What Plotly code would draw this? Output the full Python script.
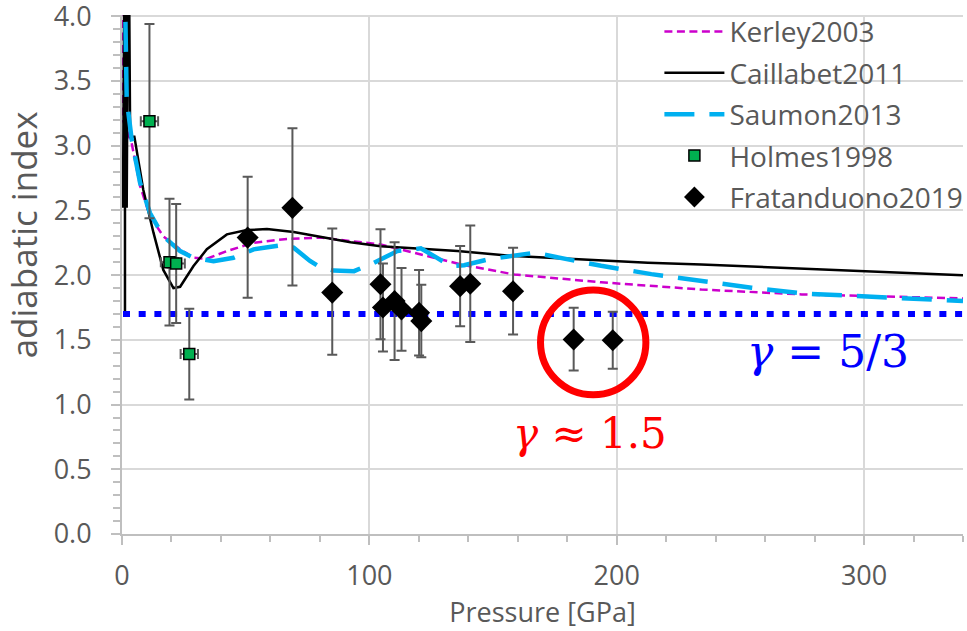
import plotly.graph_objects as go

# ---------------- data ----------------
kerley_p = [0.1, 0.3, 3.9, 7.3, 11.3, 16.7, 23.5, 28.9, 34.3, 42.4, 53.2, 66.7, 80.2,
            104.6, 137.0, 158.6, 193.7, 214.0, 234.2, 274.8, 315.3, 340.0]
kerley_g = [6.0, 3.2, 3.02, 2.69, 2.456, 2.30, 2.20, 2.134, 2.127, 2.186, 2.25, 2.28, 2.29,
            2.237, 2.083, 2.005, 1.945, 1.915, 1.889, 1.851, 1.833, 1.82]

caillabet_p = [1.2, 1.2, 0.4, 1.1, 1.9, 2.6, 3.3, 5.0, 8.6, 12.7, 16.7, 20.8, 23.5, 28.9,
               34.3, 42.4, 50.5, 58.6, 69.4, 80.2, 92.4, 104.6, 135.6, 158.6, 185.6, 212.6,
               234.2, 274.8, 301.8, 340.0]
caillabet_g = [1.70, 5.0, 2.52, 5.0, 2.52, 5.0, 3.07, 3.07, 2.66, 2.33, 2.04, 1.90, 1.91, 2.07,
               2.20, 2.315, 2.348, 2.356, 2.333, 2.297, 2.255, 2.224, 2.186, 2.147, 2.121, 2.096,
               2.083, 2.049, 2.031, 2.0]

saumon_p = [0.5, 1.6, 1.9, 3.9, 7.3, 11.3, 16.7, 23.5, 28.9, 37.0, 45.1, 53.2, 64.0, 69.4,
            72.1, 76.0, 80.2, 85.6, 93.8, 101.9, 111.3, 120.8, 126.2, 132.9, 138.3, 147.8,
            166.7, 177.5, 193.7, 214.0, 234.2, 254.5, 274.8, 295.0, 315.3, 334.2, 340.0]
saumon_g = [5.0, 3.745, 3.36, 3.05, 2.715, 2.48, 2.30, 2.186, 2.134, 2.108, 2.134, 2.199, 2.23,
            2.212, 2.17, 2.11, 2.06, 2.035, 2.031, 2.096, 2.186, 2.207, 2.147, 2.07, 2.077,
            2.121, 2.173, 2.134, 2.072, 2.008, 1.954, 1.903, 1.859, 1.838, 1.825, 1.804, 1.80]

holmes_p = [11.1, 19.2, 21.9, 27.2]
holmes_g = [3.19, 2.10, 2.09, 1.39]
holmes_err_g = [0.75, 0.49, 0.46, 0.35]
holmes_err_p = [3.5, 3.5, 3.5, 3.5]

frat_p = [50.8, 68.9, 85.0, 104.5, 105.5, 110.2, 113.0, 120.1, 121.0, 136.7, 140.8,
          158.1, 182.6, 198.4]
frat_g = [2.29, 2.52, 1.865, 1.93, 1.75, 1.80, 1.735, 1.71, 1.645, 1.915, 1.933,
          1.876, 1.503, 1.497]
frat_err_plus = [0.47, 0.615, 0.495, 0.425, 0.34, 0.455, 0.32, 0.33, 0.28, 0.31, 0.45,
                 0.335, 0.245, 0.22]
frat_err_minus = [0.465, 0.60, 0.48, 0.425, 0.34, 0.455, 0.32, 0.33, 0.28, 0.31, 0.45,
                  0.335, 0.24, 0.22]

gamma_ideal = 1.70          # drawn level of the gamma = 5/3 reference line
gamma_line_p = [0.4, 340.0]
highlighted = [12, 13]      # indices of the circled Fratanduono points

x_range = [0, 340]
y_range = [0, 4.01]

GRID = "#d9d9d9"
AXIS = "#bfbfbf"
TXT = "#595959"
FONT = "Open Sans"

fig = go.Figure()

fig.add_trace(go.Scatter(x=kerley_p, y=kerley_g, mode="lines", name="Kerley2003",
                         legendgroup="a",
                         line=dict(color="#cc00cc", width=2.5, dash="8px,4.5px")))
fig.add_trace(go.Scatter(x=caillabet_p, y=caillabet_g, mode="lines", name="Caillabet2011",
                         legendgroup="b",
                         line=dict(color="black", width=2.5)))
fig.add_trace(go.Scatter(x=saumon_p, y=saumon_g, mode="lines", name="Saumon2013",
                         legendgroup="c",
                         line=dict(color="#00b0f0", width=4.5, dash="30px,15px")))
fig.add_trace(go.Scatter(x=gamma_line_p, y=[gamma_ideal] * len(gamma_line_p), mode="lines",
                         showlegend=False, hoverinfo="skip",
                         line=dict(color="#0000ff", width=6, dash="7px,8.7px")))
fig.add_trace(go.Scatter(x=holmes_p, y=holmes_g, mode="markers", name="Holmes1998",
                         legendgroup="d",
                         marker=dict(symbol="square", size=11, color="#00b050",
                                     line=dict(color="black", width=1.5)),
                         error_y=dict(type="data", array=holmes_err_g, color=TXT,
                                      thickness=2, width=5),
                         error_x=dict(type="data", array=holmes_err_p, color=TXT,
                                      thickness=2, width=5)))
fig.add_trace(go.Scatter(x=frat_p, y=frat_g, mode="markers", name="Fratanduono2019",
                         legendgroup="e",
                         marker=dict(symbol="diamond", size=17, color="black"),
                         error_y=dict(type="data", symmetric=False, array=frat_err_plus,
                                      arrayminus=frat_err_minus, color=TXT,
                                      thickness=2, width=5)))

# red circle around the two highlighted points
cx = sum(frat_p[i] for i in highlighted) / len(highlighted)
cy = sum(frat_g[i] for i in highlighted) / len(highlighted)
rx, ry = 21.3, 0.405
fig.add_shape(type="circle", xref="x", yref="y", x0=cx - rx, x1=cx + rx,
              y0=cy - ry - 0.02, y1=cy + ry - 0.02,
              line=dict(color="#ff0000", width=7))

fig.add_annotation(x=285.5, y=1.41, xref="x", yref="y", showarrow=False,
                   text="<i>γ</i> = 5/3",
                   font=dict(family="DejaVu Serif", size=44, color="#0000ff"))
fig.add_annotation(x=cx - 1.5, y=0.78, xref="x", yref="y", showarrow=False,
                   text="<i>γ</i> ≈ 1.5",
                   font=dict(family="DejaVu Serif", size=42, color="#ff0000"))

# y-axis title (placed like the reference, above the axis centre)
fig.add_annotation(xref="paper", yref="paper", x=-0.1177, y=0.5755, showarrow=False,
                   xanchor="center", yanchor="middle",
                   text="adiabatic index", textangle=-90,
                   font=dict(family=FONT, size=35, color=TXT))

fig.update_layout(
    width=967, height=631,
    margin=dict(l=122, r=4, t=15, b=97, autoexpand=False),
    paper_bgcolor="white", plot_bgcolor="white",
    font=dict(family=FONT, color=TXT, size=28),
    legend=dict(x=0.639, y=1.016, xanchor="left", yanchor="top",
                bgcolor="rgba(0,0,0,0)", itemwidth=60, tracegroupgap=2,
                font=dict(family=FONT, size=28, color=TXT)),
    xaxis=dict(range=x_range, dtick=100, showgrid=True, gridcolor=GRID, gridwidth=1.5,
               showline=True, linecolor=AXIS, linewidth=2, zeroline=False, automargin=False,
               ticks="outside", ticklen=9, tickwidth=1.5, tickcolor=AXIS,
               minor=dict(dtick=20, ticks="outside", ticklen=6, tickcolor=AXIS,
                          tickwidth=1.5, showgrid=False),
               tickfont=dict(size=27, color=TXT), ticklabelstandoff=8,
               ticklabeloverflow="allow",
               title=dict(text="Pressure [GPa]", font=dict(size=27, color=TXT), standoff=0)),
    yaxis=dict(range=y_range, dtick=0.5, tickformat=".1f", showgrid=True, gridcolor=GRID,
               gridwidth=1.5, showline=True, linecolor=AXIS, linewidth=2, zeroline=False,
               automargin=False, ticklabeloverflow="allow",
               ticks="outside", ticklen=9, tickwidth=1.5, tickcolor=AXIS,
               minor=dict(dtick=0.1, ticks="outside", ticklen=7, tickcolor=AXIS,
                          tickwidth=1.5, showgrid=False),
               tickfont=dict(size=27, color=TXT), ticklabelstandoff=14),
)

fig.write_html("out.html", config={"displayModeBar": False},
               post_script="document.body.style.margin='0px';")
